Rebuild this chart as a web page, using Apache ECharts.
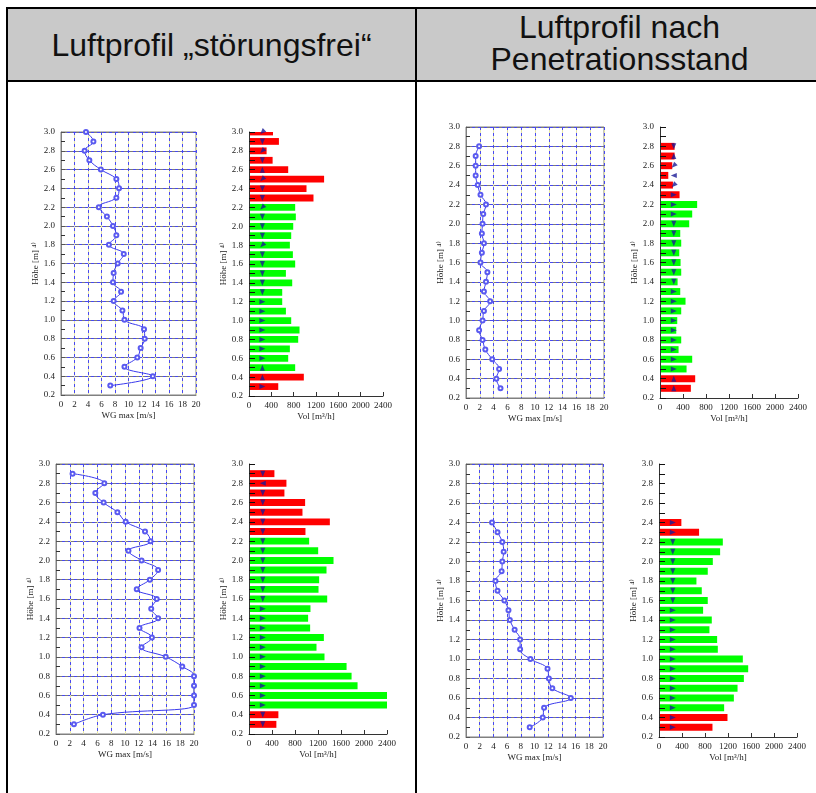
<!DOCTYPE html>
<html><head><meta charset="utf-8">
<script src="https://cdn.jsdelivr.net/npm/echarts@6/dist/echarts.min.js"></script>
<style>
html,body{margin:0;padding:0;background:#fff;}
#wrap{position:relative;width:816px;height:793px;overflow:hidden;}
.hdr{position:absolute;top:9px;height:71px;background:#c9c9c9;font-family:'Liberation Sans',Arial,sans-serif;font-size:32px;color:#111;display:flex;align-items:center;justify-content:center;text-align:center;line-height:32px;box-sizing:border-box;}
.ln{position:absolute;background:#000;}
#chart{position:absolute;left:0;top:0;width:816px;height:793px;}
</style></head>
<body><div id="wrap">
<div class="hdr" style="left:8px;width:407px;padding-top:1px;">Luftprofil „störungsfrei“</div>
<div class="hdr" style="left:417px;width:405px;padding-bottom:4px;">Luftprofil nach<br>Penetrationsstand</div>
<div class="ln" style="left:6px;top:7px;width:820px;height:2px"></div>
<div class="ln" style="left:6px;top:80px;width:820px;height:2px"></div>
<div class="ln" style="left:6px;top:7px;width:2px;height:800px"></div>
<div class="ln" style="left:415px;top:7px;width:2px;height:800px"></div>
<div id="chart"></div>
</div>
<script>
// Heights of measurement rows [m], top to bottom
const HEIGHTS = [3.0,2.9,2.8,2.7,2.6,2.5,2.4,2.3,2.2,2.1,2.0,1.9,1.8,1.7,1.6,1.5,1.4,1.3,1.2,1.1,1.0,0.9,0.8,0.7,0.6,0.5,0.4,0.3];

// Top-left: Luftprofil "störungsfrei" (upper)
const wgStoerTop = [3.7,4.8,3.5,4.2,5.9,8.2,8.6,8.2,5.6,6.8,7.7,8.2,7.1,9.3,8.4,7.8,7.7,8.9,7.8,9.1,9.4,12.3,12.4,11.8,11.3,9.4,13.6,7.3];
const volStoerTop = [430,536,315,423,702,1345,1030,1155,827,839,792,756,732,786,827,661,774,595,595,661,756,905,881,732,702,827,982,524];
const stStoerTop  = ['r','r','r','r','r','r','r','r','g','g','g','g','g','g','g','g','g','g','g','g','g','g','g','g','g','g','r','r'];
const dirStoerTop = ['dl','d','dl','d','u','dl','d','d','dl','d','d','d','dl','d','d','d','d','d','r','r','r','r','r','r','r','u','u','r'];

// Top-right: nach Penetrationsstand (upper), from 2.8 m
const wgPenTop  = [1.9,1.4,1.4,1.4,1.7,2.1,2.9,2.5,2.4,2.3,2.6,2.3,2.1,3.1,2.9,2.6,3.5,2.6,2.4,1.9,2.4,2.8,3.8,4.8,4.4,5.0];
const volPenTop = [254,254,213,144,225,340,646,560,508,352,369,335,358,369,306,352,444,369,300,283,369,323,560,462,612,537];
const stPenTop  = ['r','r','r','r','r','r','g','g','g','g','g','g','g','g','g','g','g','g','g','g','g','g','g','g','r','r'];
const dirPenTop = ['d','u','dl','l','dl','r','r','r','d','d','d','d','d','d','d','r','r','r','r','r','r','r','r','r','u','u'];

// Bottom-left: "störungsfrei" (lower), from 2.9 m
const wgStoerBot  = [2.4,7.0,5.7,6.9,8.9,10.1,12.9,13.7,10.5,12.4,14.8,13.6,11.7,14.6,13.8,14.8,12.1,13.9,12.4,15.9,18.3,20,20,20,20,6.8,2.6];
const volStoerBot = [442,651,616,976,930,1406,982,1046,1203,1470,1348,1220,1209,1360,1069,1028,1063,1302,1174,1313,1697,1784,1888,2400,2400,511,476];
const stStoerBot  = ['r','r','r','r','r','r','r','g','g','g','g','g','g','g','g','g','g','g','g','g','g','g','g','g','g','r','r'];
const dirStoerBot = ['d','l','d','d','d','d','d','d','d','d','d','d','d','d','r','r','r','r','r','r','r','r','r','r','r','d','d'];

// Bottom-right: nach Penetrationsstand (lower), from 2.4 m
const wgPenBot  = [3.8,4.6,5.3,5.5,5.3,5.2,4.3,4.6,5.6,6.2,6.4,7.1,7.9,7.9,9.4,11.9,12.1,12.6,15.3,11.4,11.2,9.3];
const volPenBot = [389,697,1110,1063,936,848,651,744,848,767,918,877,1011,1023,1458,1551,1476,1366,1302,1133,1191,930];
const stPenBot  = ['r','r','g','g','g','g','g','g','g','g','g','g','g','g','g','g','g','g','g','g','r','r'];
const dirPenBot = ['r','r','d','d','d','d','d','d','d','r','r','r','r','r','r','r','r','r','r','r','r','r'];

const ARROW_VOL = 240;
const Y_NAME = 'Höhe [m] ⁴⁾';
const X_NAME_WG = 'WG max [m/s]';
const X_NAME_VOL = 'Vol [m³/h]';

const SERIF = "'Liberation Serif','DejaVu Serif',serif";
const ROT = {u:0, l:90, dl:135, d:180, r:-90};
function hs(n){ return HEIGHTS.slice(HEIGHTS.length - n); }

const panels = [
  {kind:'line', rect:[61,132,135,263], wg:wgStoerTop},
  {kind:'bar',  rect:[249,132,134,264], vol:volStoerTop, st:stStoerTop, dir:dirStoerTop},
  {kind:'line', rect:[466,127,138,271], wg:wgPenTop},
  {kind:'bar',  rect:[660,127,138,271], vol:volPenTop, st:stPenTop, dir:dirPenTop},
  {kind:'line', rect:[56,464,138,270], wg:wgStoerBot},
  {kind:'bar',  rect:[249,464,138,270], vol:volStoerBot, st:stStoerBot, dir:dirStoerBot},
  {kind:'line', rect:[466,464,137,273], wg:wgPenBot},
  {kind:'bar',  rect:[659,464,138,273], vol:volPenBot, st:stPenBot, dir:dirPenBot}
];

const grid=[], xAxis=[], yAxis=[], series=[];
const lblStyle = {fontFamily:SERIF, fontSize:9, color:'#222'};
const nameStyle = {fontFamily:SERIF, fontSize:9, color:'#222'};
const plain = v => String(v);

panels.forEach((p, gi) => {
  const [l,t,w,h] = p.rect;
  grid.push({left:l, top:t, width:w, height:h, show:p.kind==='line', borderColor:'#808080', borderWidth:1, containLabel:false});
  const yBase = {gridIndex:gi, type:'value', min:0.2, max:3.0, interval:0.2};
  if (p.kind === 'line') {
    const xi = xAxis.length;
    xAxis.push({gridIndex:gi, type:'value', min:0, max:20, interval:2, position:'bottom',
      name:X_NAME_WG, nameLocation:'middle', nameGap:16, nameTextStyle:nameStyle,
      axisLine:{show:true, lineStyle:{color:'#808080'}}, axisTick:{show:false},
      axisLabel:Object.assign({margin:5, formatter:plain}, lblStyle),
      splitLine:{show:true, lineStyle:{color:'#e4e4a6', width:1}}});
    xAxis.push({gridIndex:gi, type:'value', min:0, max:20, interval:2, position:'bottom',
      axisLine:{show:false}, axisTick:{show:false}, axisLabel:{show:false},
      splitLine:{show:true, lineStyle:{color:'#4848f0', width:1, type:[3,3]}}});
    const yi = yAxis.length;
    yAxis.push(Object.assign({}, yBase, {position:'left',
      name:Y_NAME, nameLocation:'middle', nameRotate:90, nameGap:21, nameTextStyle:nameStyle,
      axisLine:{show:true, lineStyle:{color:'#808080'}},
      axisTick:{show:true, inside:true, length:4, lineStyle:{color:'#555'}},
      minorTick:{show:true, splitNumber:2, length:4, lineStyle:{color:'#333'}},
      axisLabel:Object.assign({margin:6, formatter:v=>v.toFixed(1)}, lblStyle),
      splitLine:{show:true, lineStyle:{color:'#7a7a7a', width:1}}}));
    yAxis.push(Object.assign({}, yBase, {position:'left',
      axisLine:{show:false}, axisTick:{show:false}, axisLabel:{show:false},
      splitLine:{show:true, lineStyle:{color:'#4848f0', width:1, type:[3,3]}}}));
    const H = hs(p.wg.length);
    series.push({type:'line', xAxisIndex:xi, yAxisIndex:yi, z:5,
      data:p.wg.map((v,i)=>[v,H[i]]), smooth:0.4,
      lineStyle:{color:'#3a3aec', width:1}, itemStyle:{color:'#5a5af0', borderWidth:0.8},
      symbol:'emptyCircle', symbolSize:4, clip:false, animation:false});
  } else {
    const xi = xAxis.length;
    xAxis.push({gridIndex:gi, type:'value', min:0, max:2400, interval:400, position:'bottom',
      name:X_NAME_VOL, nameLocation:'middle', nameGap:16, nameTextStyle:nameStyle,
      axisLine:{show:true, lineStyle:{color:'#333'}},
      axisTick:{show:true, inside:true, length:4, lineStyle:{color:'#333'}},
      axisLabel:Object.assign({margin:5, formatter:plain}, lblStyle),
      splitLine:{show:false}});
    const yi = yAxis.length;
    yAxis.push(Object.assign({}, yBase, {position:'left', z:6,
      name:Y_NAME, nameLocation:'middle', nameRotate:90, nameGap:21, nameTextStyle:nameStyle,
      axisLine:{show:true, lineStyle:{color:'#333'}},
      axisTick:{show:true, inside:true, length:6, lineStyle:{color:'#111'}},
      minorTick:{show:true, splitNumber:2, length:6, lineStyle:{color:'#111'}},
      axisLabel:Object.assign({margin:6, formatter:v=>v.toFixed(1)}, lblStyle),
      splitLine:{show:false}}));
    const H = hs(p.vol.length);
    series.push({type:'custom', xAxisIndex:xi, yAxisIndex:yi, z:2, clip:true, animation:false,
      data:p.vol.map((v,i)=>[v, H[i], p.st[i]==='g'?1:0]),
      encode:{x:0, y:1},
      renderItem:(params, api)=>{
        const v = api.value(0), hh = api.value(1), g = api.value(2);
        const p0 = api.coord([0, hh]), p1 = api.coord([v, hh]);
        const bh = api.size([0, 0.072])[1];
        return {type:'rect', shape:{x:p0[0], y:p0[1]-bh/2, width:p1[0]-p0[0], height:bh},
          style:{fill: g ? '#00ff00' : '#ff0000'}};
      }});
    series.push({type:'scatter', xAxisIndex:xi, yAxisIndex:yi, z:8, animation:false,
      symbol:'triangle', symbolSize:[5,6], itemStyle:{color:'#1a1a96'},
      data:p.dir.map((d,i)=>({value:[ARROW_VOL, H[i]], symbolRotate:ROT[d]}))});
  }
});

const chart = echarts.init(document.getElementById('chart'), null, {renderer:'canvas'});
chart.setOption({animation:false, grid, xAxis, yAxis, series});
</script>
</body></html>
